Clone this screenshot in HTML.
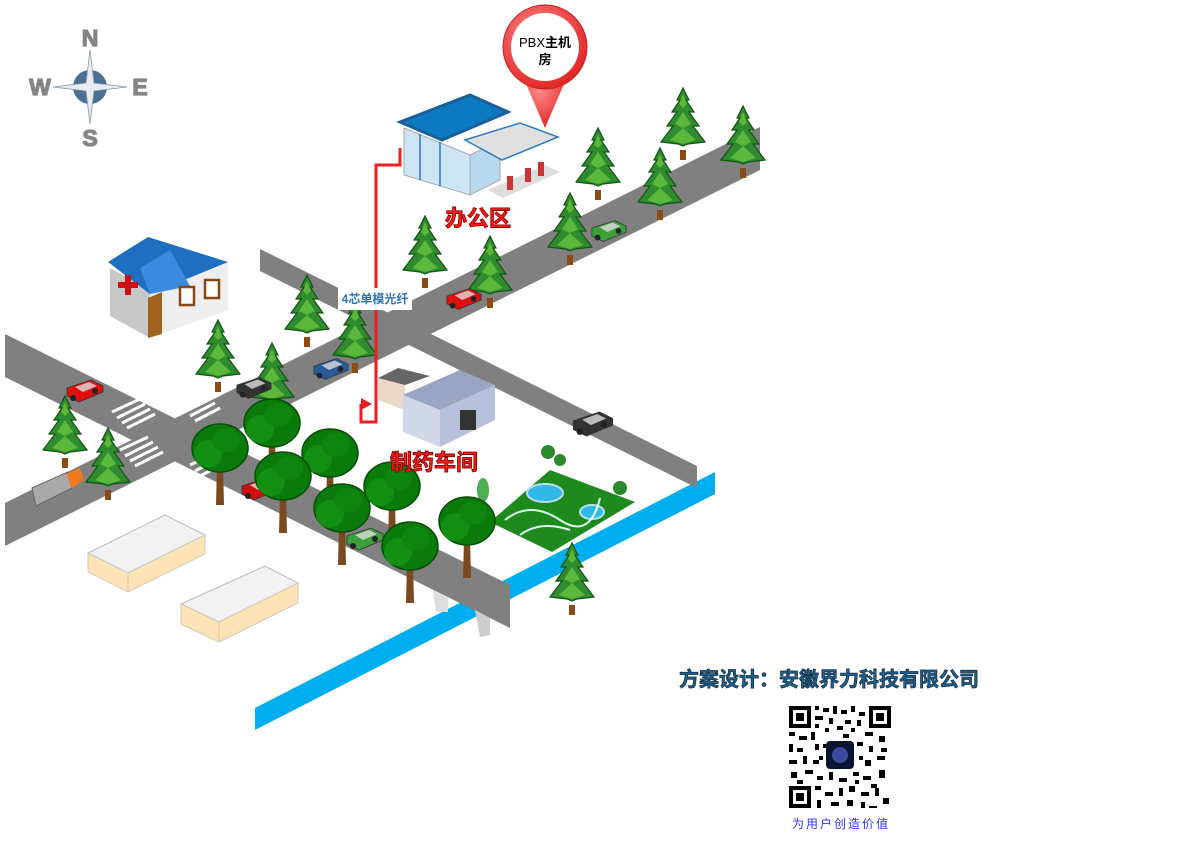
<!DOCTYPE html>
<html><head><meta charset="utf-8"><style>
html,body{margin:0;padding:0;background:#fff;}
svg{display:block;}
text{font-family:"Liberation Sans","Noto Sans CJK SC",sans-serif;}
</style></head><body>
<svg width="1189" height="841" viewBox="0 0 1189 841" xmlns="http://www.w3.org/2000/svg">
<defs>
<symbol id="pine" viewBox="0 0 50 75" overflow="visible">
<rect x="22" y="62" width="6" height="10" fill="#8a4b14"/>
<polygon points="25,0 31,12 28,12 36,24 31,24 41,38 35,38 47,54 30,56 25,58 20,56 3,54 15,38 9,38 19,24 14,24 22,12 19,12" fill="#2e8b2e" stroke="#145214" stroke-width="1.2"/>
<polygon points="25,6 29,16 25,20 21,16" fill="#5cb83a"/>
<polygon points="25,24 33,36 25,40 17,36" fill="#5cb83a"/>
<polygon points="25,40 38,52 25,56 12,52" fill="#5cb83a"/>
</symbol>
<symbol id="tree" viewBox="0 0 60 85" overflow="visible">
<polygon points="27,45 33,45 34,85 26,85" fill="#7a4a1e"/>
<ellipse cx="30" cy="28" rx="28" ry="24" fill="#0a7a0a" stroke="#064d06" stroke-width="1.5"/>
<ellipse cx="18" cy="34" rx="14" ry="14" fill="#138f13"/>
<ellipse cx="36" cy="20" rx="14" ry="12" fill="#0e850e"/>
</symbol>
<symbol id="car" viewBox="0 0 40 22" overflow="visible">
<polygon points="2,8 26,0 38,6 38,12 14,22 2,16" fill="currentColor" stroke="#333" stroke-width="0.8"/>
<polygon points="10,7 24,2 32,6 18,12" fill="#ddd" opacity="0.8"/>
<circle cx="8" cy="18" r="3" fill="#222"/><circle cx="30" cy="11" r="3" fill="#222"/>
</symbol>
<radialGradient id="pin" cx="0.4" cy="0.35" r="0.7"><stop offset="0" stop-color="#ff8a8a"/><stop offset="1" stop-color="#e02020"/></radialGradient>
</defs>

<!-- compass -->
<g>
<circle cx="90" cy="87" r="17" fill="#4d6e93"/>
<polygon points="90,50 94,83 127,87 94,91 90,124 86,91 53,87 86,83" fill="#e8ecf2" stroke="#8899aa" stroke-width="0.8"/>
<g font-size="23" font-weight="bold" fill="#858585" stroke="#858585" stroke-width="1.2" text-anchor="middle">
<text x="90" y="46">N</text>
<text x="90" y="146">S</text>
<text x="40" y="95">W</text>
<text x="140" y="95">E</text>
</g>
</g>

<!-- river -->
<polygon points="255,708 715,472 715,494 255,730" fill="#00adef"/>

<!-- roads -->
<polygon points="260,249 697,466 697,488 260,271" fill="#808080"/>
<polygon points="5,334 510,585 510,628 5,377" fill="#808080"/>
<polygon points="5,503 760,127 760,170 5,546" fill="#808080"/>
<polygon points="433,590 448,598 448,612 436,612" fill="#ddd"/>
<polygon points="475,610 490,618 490,635 480,637" fill="#ccc"/>
<g stroke="#fff" stroke-width="3">
<line x1="112" y1="412" x2="140" y2="399"/><line x1="117" y1="418" x2="145" y2="404"/><line x1="122" y1="423" x2="150" y2="409"/><line x1="127" y1="428" x2="155" y2="414"/>
<line x1="185" y1="410" x2="210" y2="398"/><line x1="190" y1="416" x2="215" y2="403"/><line x1="195" y1="421" x2="220" y2="408"/>
<line x1="120" y1="450" x2="148" y2="437"/><line x1="125" y1="456" x2="153" y2="442"/><line x1="130" y1="461" x2="158" y2="447"/><line x1="135" y1="466" x2="163" y2="452"/>
<line x1="190" y1="465" x2="215" y2="453"/><line x1="195" y1="471" x2="220" y2="458"/><line x1="200" y1="476" x2="225" y2="463"/>
</g>

<!-- park -->
<polygon points="490,522 550,470 635,502 552,552" fill="#1e8a1e"/>
<ellipse cx="545" cy="493" rx="18" ry="9" fill="#30b8e8" stroke="#bde" stroke-width="2"/>
<ellipse cx="592" cy="512" rx="12" ry="7" fill="#30b8e8" stroke="#bde" stroke-width="2"/>
<path d="M505,520 Q530,500 560,520 T600,498 M520,535 Q540,520 570,530" stroke="#dfe" stroke-width="2" fill="none"/>
<circle cx="548" cy="452" r="7" fill="#2a8a2a"/><circle cx="560" cy="460" r="6" fill="#2a8a2a"/><circle cx="620" cy="488" r="7" fill="#2a8a2a"/><ellipse cx="483" cy="490" rx="6" ry="12" fill="#4caf50"/>

<!-- boxes -->
<polygon points="88,553 165,515 205,535 128,573" fill="#f2f2f2" stroke="#bbb"/>
<polygon points="88,553 128,573 128,592 88,572" fill="#fde3b5" stroke="#ccb"/>
<polygon points="128,573 205,535 205,554 128,592" fill="#fde3b5" stroke="#ccb"/>
<polygon points="181,604 265,566 298,583 219,622" fill="#f2f2f2" stroke="#bbb"/>
<polygon points="181,604 219,622 219,642 181,624" fill="#fde3b5" stroke="#ccb"/>
<polygon points="219,622 298,583 298,603 219,642" fill="#fde3b5" stroke="#ccb"/>

<!-- hospital -->
<polygon points="110,268 150,290 150,338 110,316" fill="#c8c8c8"/>
<polygon points="150,290 228,262 228,310 150,338" fill="#eeeeee"/>
<polygon points="108,262 148,237 228,262 150,294" fill="#1e6fc0"/>
<polygon points="140,268 170,250 190,286 150,294" fill="#3a8ae0"/>
<rect x="118" y="282" width="20" height="6" fill="#d01010"/><rect x="125" y="275" width="6" height="20" fill="#d01010"/>
<polygon points="148,298 162,292 162,334 148,338" fill="#a0621e"/>
<rect x="180" y="287" width="14" height="18" fill="#fff" stroke="#8b4513" stroke-width="2.5"/>
<rect x="205" y="280" width="14" height="18" fill="#fff" stroke="#8b4513" stroke-width="2.5"/>

<!-- office -->
<polygon points="404,128 470,155 470,195 404,175" fill="#cde5f5" stroke="#aaa"/>
<line x1="420" y1="134" x2="420" y2="180" stroke="#2a7ac0" stroke-width="1.5"/><line x1="440" y1="142" x2="440" y2="186" stroke="#2a7ac0" stroke-width="1.5"/>
<polygon points="470,155 500,140 500,180 470,195" fill="#b8d8ee" stroke="#aaa"/>
<polygon points="400,122 470,95 508,112 442,140" fill="#0b7ac0" stroke="#1a5e9a" stroke-width="3"/>
<polygon points="465,140 520,123 558,137 502,160" fill="#e0e0e0" stroke="#2a7ac0" stroke-width="1.5"/>
<polygon points="488,190 545,165 560,172 503,198" fill="#ddd"/>
<rect x="507" y="176" width="6" height="14" fill="#c33"/><rect x="525" y="168" width="6" height="14" fill="#c33"/><rect x="538" y="162" width="6" height="14" fill="#c33"/>
<polygon points="520,70 570,70 545,128" fill="url(#pin)"/>
<circle cx="545" cy="47" r="42" fill="url(#pin)" stroke="#c82020"/>
<circle cx="545" cy="47" r="34" fill="#fff"/>
<text x="545" y="47" font-size="13" fill="#000" text-anchor="middle">PBX<tspan font-weight="bold">主机</tspan></text>
<text x="545" y="64" font-size="13" font-weight="bold" fill="#000" text-anchor="middle">房</text>

<!-- factory -->
<polygon points="378,378 405,368 405,410 378,400" fill="#ead8c8"/>
<polygon points="378,378 398,368 430,376 405,385" fill="#666"/>
<polygon points="403,395 440,410 440,447 403,432" fill="#d0d8e8"/>
<polygon points="440,410 495,385 495,420 440,447" fill="#b6c2da"/>
<polygon points="403,395 460,370 495,385 440,410" fill="#98a6c4"/>
<rect x="460" y="410" width="16" height="20" fill="#333"/>

<use href="#pine" x="658" y="88" width="50" height="75"/>
<use href="#pine" x="718" y="106" width="50" height="75"/>
<use href="#pine" x="573" y="128" width="50" height="75"/>
<use href="#pine" x="635" y="148" width="50" height="75"/>
<use href="#pine" x="545" y="193" width="50" height="75"/>
<use href="#pine" x="400" y="216" width="50" height="75"/>
<use href="#pine" x="465" y="236" width="50" height="75"/>
<use href="#pine" x="282" y="275" width="50" height="75"/>
<use href="#pine" x="330" y="301" width="50" height="75"/>
<use href="#pine" x="193" y="320" width="50" height="75"/>
<use href="#pine" x="247" y="343" width="50" height="75"/>
<use href="#pine" x="40" y="396" width="50" height="75"/>
<use href="#pine" x="83" y="428" width="50" height="75"/>
<use href="#pine" x="547" y="543" width="50" height="75"/>

<use href="#car" x="590" y="220" width="38" height="22" color="#3ca03c"/>
<use href="#car" x="445" y="288" width="38" height="22" color="#e01010"/>
<use href="#car" x="312" y="358" width="38" height="22" color="#2a5a9a"/>
<use href="#car" x="235" y="377" width="38" height="22" color="#333"/>
<use href="#car" x="65" y="380" width="40" height="22" color="#e01010"/>
<use href="#car" x="570" y="412" width="46" height="24" color="#333"/>
<use href="#car" x="240" y="478" width="40" height="22" color="#d01010"/>
<use href="#car" x="345" y="528" width="40" height="22" color="#3ca03c"/>
<polygon points="32,488 68,472 72,488 36,506" fill="#aaa" stroke="#666"/>
<polygon points="66,474 80,468 84,480 72,488" fill="#f07a20"/>

<use href="#tree" x="190" y="420" width="60" height="85"/>
<use href="#tree" x="242" y="395" width="60" height="85"/>
<use href="#tree" x="300" y="425" width="60" height="85"/>
<use href="#tree" x="253" y="448" width="60" height="85"/>
<use href="#tree" x="312" y="480" width="60" height="85"/>
<use href="#tree" x="362" y="458" width="60" height="85"/>
<use href="#tree" x="380" y="518" width="60" height="85"/>
<use href="#tree" x="437" y="493" width="60" height="85"/>

<polyline points="400,148 400,165 376,165 376,422 361,422 361,404" fill="none" stroke="#ee1c25" stroke-width="3"/>
<polygon points="361,398 372,404 361,410" fill="#ee1c25"/>
<rect x="338" y="288" width="74" height="22" fill="#fff"/>
<text x="375" y="303" font-size="12" font-weight="bold" fill="#2e75b6" text-anchor="middle">4芯单模光纤</text>

<text x="478" y="226" font-size="22" font-weight="bold" fill="#ff1a1a" stroke="#8a0000" stroke-width="0.9" text-anchor="middle">办公区</text>
<text x="434" y="470" font-size="22" font-weight="bold" fill="#ff1a1a" stroke="#8a0000" stroke-width="0.9" text-anchor="middle">制药车间</text>

<text x="829" y="686" font-size="20" font-weight="bold" fill="#1f5f8b" stroke="#0d2a40" stroke-width="0.7" text-anchor="middle">方案设计：安徽界力科技有限公司</text>

<g fill="#000">
<rect x="789" y="706" width="102" height="102" fill="#fff"/>
<rect x="789" y="706" width="22" height="22"/><rect x="793" y="710" width="14" height="14" fill="#fff"/><rect x="796" y="713" width="8" height="8"/>
<rect x="869" y="706" width="22" height="22"/><rect x="873" y="710" width="14" height="14" fill="#fff"/><rect x="876" y="713" width="8" height="8"/>
<rect x="789" y="786" width="22" height="22"/><rect x="793" y="790" width="14" height="14" fill="#fff"/><rect x="796" y="793" width="8" height="8"/>
<path d="M815 706h4v4h-4zM823 708h6v4h-6zM833 706h4v8h-4zM841 710h6v4h-6zM851 706h4v6h-4zM859 712h6v4h-6zM815 716h8v4h-8zM829 718h4v6h-4zM845 720h6v4h-6zM857 720h4v6h-4zM789 732h6v4h-6zM799 736h8v4h-8zM811 732h4v8h-4zM865 732h8v4h-8zM879 736h6v6h-6zM789 744h4v8h-4zM797 748h6v4h-6zM869 746h4v6h-4zM881 748h6v4h-6zM789 760h8v4h-8zM803 756h4v8h-4zM813 760h6v4h-6zM865 760h6v6h-6zM877 756h8v4h-8zM791 772h6v6h-6zM805 770h8v4h-8zM817 776h6v4h-6zM829 772h4v8h-4zM839 778h8v4h-8zM853 772h6v4h-6zM863 776h8v4h-8zM879 770h6v8h-6zM815 786h6v4h-6zM825 792h8v4h-8zM839 788h4v8h-4zM849 786h6v6h-6zM861 792h8v4h-8zM875 788h4v8h-4zM883 798h6v6h-6zM817 800h4v8h-4zM831 802h8v4h-8zM847 800h6v6h-6zM861 802h4v6h-4zM869 806h8v2h-8zM815 724h4v4h-4zM837 726h6v4h-6zM851 728h4v4h-4zM823 744h6v4h-6zM857 742h6v4h-6zM819 756h4v4h-4zM859 756h4v4h-4zM803 724h4v4h-4zM825 728h4v4h-4zM843 734h6v4h-6zM815 744h4v6h-4zM797 780h6v4h-6zM855 780h4v4h-4zM871 784h6v4h-6z"/>
<rect x="826" y="741" width="28" height="28" rx="4" fill="#0a1530"/>
<circle cx="840" cy="755" r="8" fill="#3a4aa0"/>
</g>
<text x="841" y="828" font-size="12" fill="#3333ff" text-anchor="middle" letter-spacing="2">为用户创造价值</text>
</svg>
</body></html>
